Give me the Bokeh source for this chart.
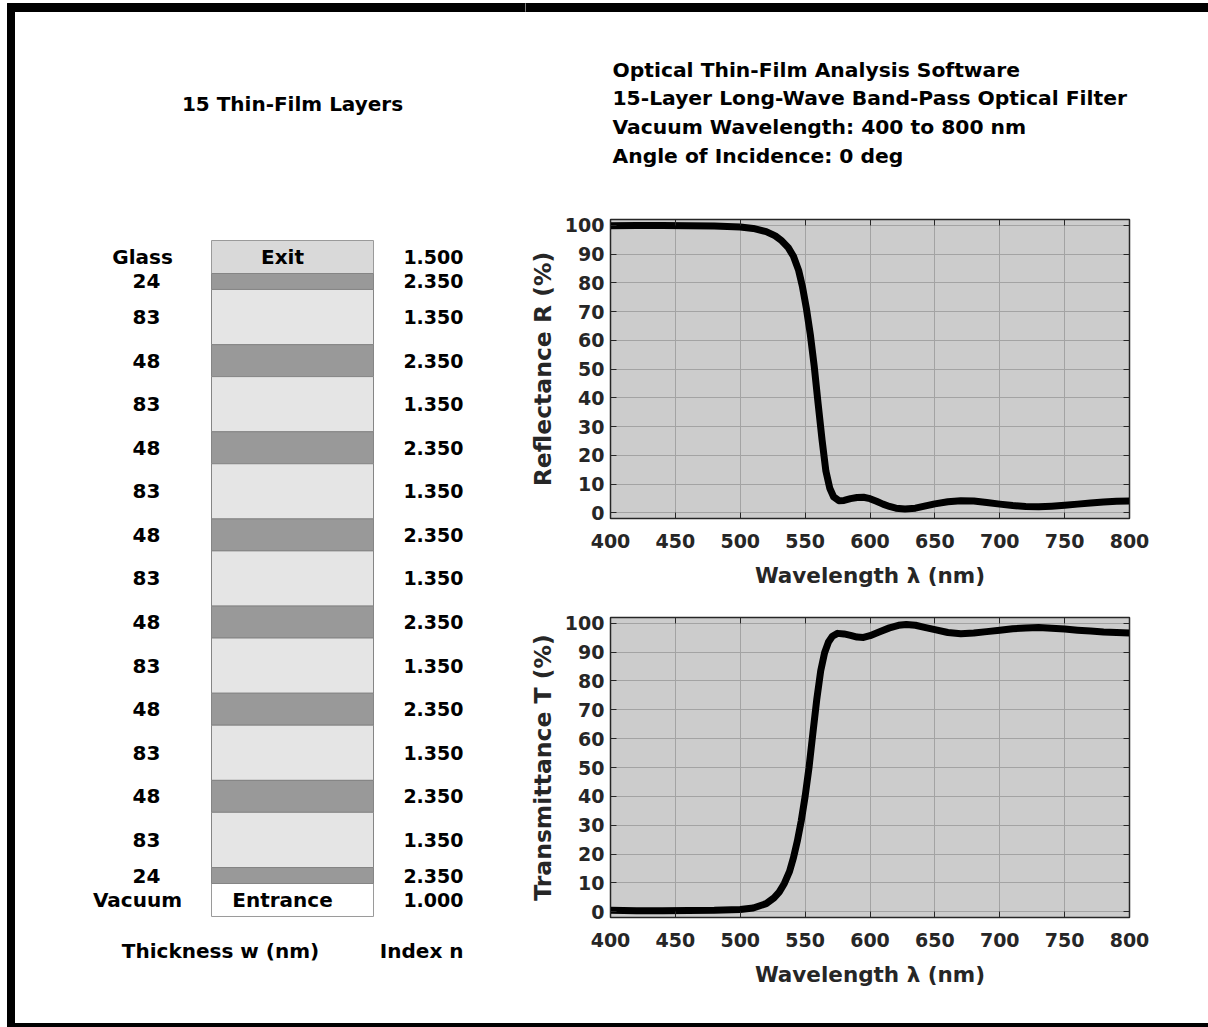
import numpy as np
from bokeh.plotting import figure
from bokeh.layouts import row, column
from bokeh.models import Range1d, LinearAxis, FixedTicker, ColumnDataSource, Div
from bokeh.embed import file_html
from bokeh.resources import INLINE
from bokeh.core.properties import value

# ---------------- data ----------------
wl_R = [400, 420, 440, 460, 480, 500, 510, 520, 527, 532, 537, 541, 545, 548, 551,
        554, 557, 560, 563, 566, 569, 572, 576, 580, 585, 590, 595, 600, 605, 610,
        615, 620, 627, 635, 642, 650, 660, 670, 680, 690, 700, 710, 720, 730, 740,
        750, 760, 770, 780, 790, 800]
R = [99.8, 99.9, 99.9, 99.8, 99.7, 99.4, 98.9, 97.8, 96.3, 94.6, 92.2, 89.2, 84.3, 78.5, 71.0,
     62.0, 51.0, 38.0, 25.5, 14.5, 8.5, 5.5, 4.2, 4.3, 4.9, 5.3, 5.4, 4.9, 4.0, 3.0,
     2.2, 1.6, 1.3, 1.6, 2.3, 3.1, 3.8, 4.2, 4.1, 3.6, 3.0, 2.5, 2.2, 2.1, 2.3,
     2.6, 3.0, 3.4, 3.7, 4.0, 4.1]

wl_T = [400, 420, 440, 460, 480, 500, 510, 520, 526, 530, 534, 538, 541, 544, 547,
        550, 553, 556, 559, 562, 565, 568, 571, 575, 580, 585, 590, 595, 600, 607,
        615, 622, 628, 635, 642, 650, 660, 670, 680, 690, 700, 710, 720, 730, 740,
        750, 760, 770, 780, 790, 800]
T = [0.5, 0.3, 0.3, 0.4, 0.5, 0.8, 1.3, 2.8, 4.8, 6.8, 9.8, 14.0, 18.7, 24.5, 31.5,
     40.0, 50.0, 62.0, 73.7, 83.5, 89.8, 93.5, 95.5, 96.5, 96.3, 95.8, 95.2, 95.1, 95.7, 97.0,
     98.4, 99.3, 99.6, 99.3, 98.6, 97.8, 96.8, 96.4, 96.6, 97.1, 97.6, 98.1, 98.4, 98.5, 98.3,
     98.0, 97.6, 97.3, 97.0, 96.8, 96.6]

layer_thickness = [24, 83, 48, 83, 48, 83, 48, 83, 48, 83, 48, 83, 48, 83, 24]
layer_index = [2.35, 1.35, 2.35, 1.35, 2.35, 1.35, 2.35, 1.35, 2.35, 1.35, 2.35, 1.35, 2.35, 1.35, 2.35]
exit_medium, exit_index, exit_name = "Glass", 1.5, "Exit"
entrance_medium, entrance_index, entrance_name = "Vacuum", 1.0, "Entrance"

x_ticks = [400, 450, 500, 550, 600, 650, 700, 750, 800]
y_ticks = [0, 10, 20, 30, 40, 50, 60, 70, 80, 90, 100]

stack_title = "15 Thin-Film Layers"
title_lines = ["Optical Thin-Film Analysis Software",
               "15-Layer Long-Wave Band-Pass Optical Filter",
               "Vacuum Wavelength: 400 to 800 nm",
               "Angle of Incidence: 0 deg"]

# ---------------- styling ----------------
FONT = "DejaVu Sans"
H = 1027
WL = 525
WR = 1208 - WL
AX = "#262626"

def blank(w, h):
    p = figure(width=w, height=h, x_range=Range1d(0, w), y_range=Range1d(h, 0),
               output_backend="svg", toolbar_location=None,
               x_axis_type=None, y_axis_type=None, min_border=0)
    p.grid.visible = False
    p.outline_line_color = None
    p.background_fill_color = "white"
    p.border_fill_color = "white"
    p.frame_align = False
    return p

def txt(p, x, y, t, size, align="center"):
    p.text(x=x, y=y, text=t, text_align=align, text_baseline="middle",
           text_font=value(FONT), text_font_style="bold",
           text_font_size=size, text_color="black")

# ---------------- left panel: layer stack ----------------
pL = blank(WL, H)
pL.quad(left=7, right=WL + 2, top=3, bottom=11, color="black")
pL.quad(left=7, right=14, top=3, bottom=H, color="black")
pL.quad(left=7, right=WL + 2, top=1023, bottom=H, color="black")

k = 0.6652          # px per nm
y0 = 273.0          # top of first film
amb = 33.0          # height of ambient boxes
xl, xr = 211, 373

th = np.array(layer_thickness, dtype=float)
tops = y0 + k * np.concatenate([[0], np.cumsum(th)[:-1]])
bots = tops + k * th
fills = ["#999999" if n > 2 else "#e5e5e5" for n in layer_index]

pL.quad(left=xl, right=xr, top=y0 - amb, bottom=y0, fill_color="#d9d9d9",
        line_color="#9a9a9a", line_width=1)
pL.quad(left=xl, right=xr, top=bots[-1], bottom=bots[-1] + amb, fill_color="white",
        line_color="#9a9a9a", line_width=1)
pL.quad(left=xl, right=xr, top=tops, bottom=bots, fill_color=fills,
        line_color="#858585", line_width=1)

centers = list((tops + bots) / 2)
ys = [y0 - amb / 2] + centers + [bots[-1] + amb / 2]
thick_lab = [exit_medium] + [str(t) for t in layer_thickness] + [entrance_medium]
idx_lab = ["%.3f" % n for n in [exit_index] + layer_index + [entrance_index]]
xs = [142] + [146] * len(layer_thickness) + [137]

src = ColumnDataSource(dict(x=xs, y=ys, t=thick_lab))
pL.text(x="x", y="y", text="t", source=src, text_align="center", text_baseline="middle",
        text_font=value(FONT), text_font_style="bold", text_font_size="20px")
src2 = ColumnDataSource(dict(x=[463] * len(ys), y=ys, t=idx_lab))
pL.text(x="x", y="y", text="t", source=src2, text_align="right", text_baseline="middle",
        text_font=value(FONT), text_font_style="bold", text_font_size="19px")

txt(pL, [282], [ys[0]], [exit_name], "20px")
txt(pL, [282], [ys[-1]], [entrance_name], "20px")
txt(pL, [292], [103], [stack_title], "20px")
txt(pL, [220], [950], ["Thickness w (nm)"], "20px")
txt(pL, [463], [950], ["Index n"], "20px", align="right")

# ---------------- right: titles ----------------
pTitle = blank(WR, 200)
pTitle.quad(left=-2, right=WR, top=3, bottom=11, color="black")
for i, line in enumerate(title_lines):
    txt(pTitle, [87], [69 + 28.7 * i], [line], "20.3px", align="left")

# ---------------- right: plots ----------------
def make_plot(height, top, bottom, ylabel, wl, vals):
    p = figure(width=WR, height=height, x_range=Range1d(400, 800), y_range=Range1d(-2, 102),
               min_border_left=84, min_border_right=79, min_border_top=top,
               min_border_bottom=bottom, output_backend="svg", toolbar_location=None)
    p.background_fill_color = "#cccccc"
    p.border_fill_color = "white"
    p.outline_line_color = AX
    p.outline_line_width = 1.5
    p.xaxis.ticker = FixedTicker(ticks=x_ticks)
    p.yaxis.ticker = FixedTicker(ticks=y_ticks)
    p.xgrid.ticker = FixedTicker(ticks=x_ticks)
    p.ygrid.ticker = FixedTicker(ticks=y_ticks)
    p.grid.grid_line_color = "#a3a3a3"
    p.grid.grid_line_width = 1
    for ax in (p.xaxis, p.yaxis):
        ax.major_tick_in = 6
        ax.major_tick_out = 0
        ax.minor_tick_line_color = None
        ax.major_tick_line_color = AX
        ax.axis_line_color = AX
        ax.major_label_text_font = FONT
        ax.major_label_text_font_style = "bold"
        ax.major_label_text_font_size = "19px"
        ax.major_label_text_color = "#262626"
        ax.axis_label_text_font = FONT
        ax.axis_label_text_font_style = "bold"
        ax.axis_label_text_color = "#262626"
    p.xaxis.major_label_standoff = 15
    p.yaxis.major_label_standoff = 6
    p.xaxis.axis_label = "Wavelength λ (nm)"
    p.xaxis.axis_label_text_font_size = "21.5px"
    p.xaxis.axis_label_standoff = 12
    p.yaxis.axis_label = ylabel
    p.yaxis.axis_label_text_font_size = "23.5px"
    p.yaxis.axis_label_standoff = 5
    for loc, tk in (("above", x_ticks), ("right", y_ticks)):
        ax = LinearAxis(ticker=FixedTicker(ticks=tk), major_label_text_font_size="0px",
                        major_label_standoff=0, major_tick_in=6, major_tick_out=0,
                        minor_tick_line_color=None, major_tick_line_color=AX,
                        axis_line_color=AX, major_label_text_color=None)
        p.add_layout(ax, loc)
    p.line(wl, vals, line_color="black", line_width=7, line_join="round", line_cap="round")
    return p

pR = make_plot(400, 19, 82, "Reflectance R (%)", wl_R, R)
pT = make_plot(423, 17, 106, "Transmittance T (%)", wl_T, T)

pBot = Div(text="", width=WR, height=4,
           styles={"background-color": "black", "margin": "0", "padding": "0"})

right = column(pTitle, pR, pT, pBot, spacing=0)
layout = row(pL, right, spacing=0)

open("out.html", "w").write(file_html(layout, INLINE))
